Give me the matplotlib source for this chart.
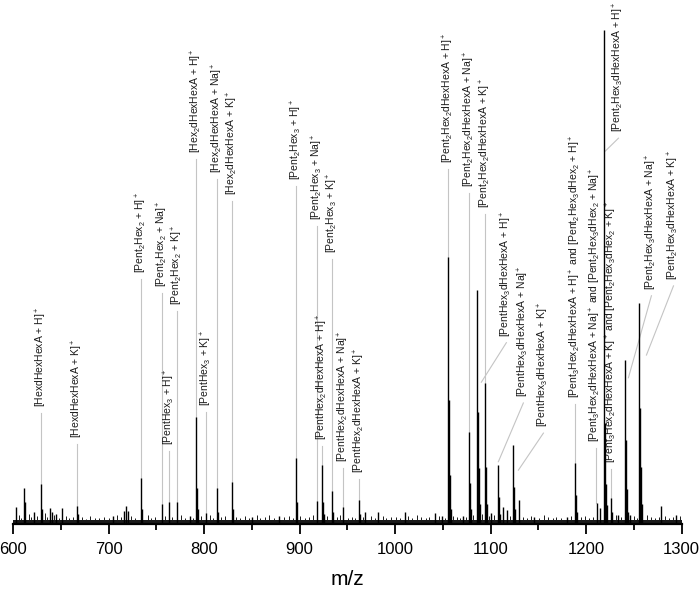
import matplotlib
matplotlib.use('Agg')
import matplotlib.pyplot as plt

plt.rcParams['font.family'] = ['Liberation Sans', 'DejaVu Sans']
plt.rcParams['mathtext.fontset'] = 'custom'
plt.rcParams['mathtext.rm'] = 'Liberation Sans'
plt.rcParams['mathtext.it'] = 'Liberation Sans'
plt.rcParams['mathtext.default'] = 'regular'

# Peaks: m/z and relative intensity (tallest = 100)
peak_mz = [603, 611.5, 613, 622, 629.3, 630.3, 638.8, 641, 645, 651, 667, 668,
           705, 716, 718, 720, 734, 735, 756, 763.5, 772, 785, 792, 793, 794,
           802, 814, 815, 829.5, 830.5, 850, 879, 896.5, 897.5, 918.5, 924,
           925, 926, 934, 935, 946, 962.5, 963.5, 969, 982.5, 1010, 1042,
           1049.5, 1055.8, 1056.8, 1057.8, 1058.8, 1071.5, 1077.8, 1078.8,
           1079.8, 1086.2, 1087.2, 1088.2, 1089.2, 1094.6, 1095.6, 1096.6,
           1100, 1108.2, 1109.2, 1110.2, 1113.5, 1117.5, 1124, 1125, 1126,
           1130, 1146, 1180, 1189, 1190, 1191, 1211, 1215, 1219.3, 1220.3,
           1221.3, 1222.3, 1226.6, 1227.6, 1234, 1240.5, 1241.5, 1242.5,
           1243.5, 1246.5, 1256, 1257, 1258, 1259, 1279, 1294.7]
peak_int = [3.4, 7.3, 4.5, 2.4, 8.1, 3.0, 3.2, 2.5, 2.0, 3.2, 3.6, 2.0,
            1.6, 2.6, 3.6, 2.6, 9.3, 3.0, 4.0, 4.5, 4.5, 1.6, 21.7, 7.3, 3.0,
            2.2, 7.3, 2.5, 8.5, 3.0, 1.5, 1.6, 13.4, 4.5, 4.7, 11.9,
            4.5, 2.0, 6.7, 2.5, 3.4, 4.9, 2.0, 2.4, 2.4, 2.4, 2.2,
            1.6, 54.0, 25.0, 10.0, 3.0, 1.6, 18.6, 8.3,
            3.0, 47.4, 22.7, 11.3, 4.0, 28.5, 11.5, 4.0,
            2.2, 11.9, 5.5, 2.0, 3.4, 2.8, 16.0, 7.5, 3.0,
            4.9, 1.5, 1.5, 12.3, 5.9, 2.5, 4.3, 3.2, 100, 20.4,
            8.0, 3.8, 5.3, 2.5, 1.8, 33.2, 17.0, 7.0,
            2.5, 1.8, 44.7, 23.5, 11.5, 4.0, 3.6, 1.8]

# small baseline spikes
minor_mz = [606, 608, 617, 619, 625, 633, 636, 643, 648, 655, 659, 663, 672,
            676, 681, 686, 690, 695, 700, 709, 713, 724, 728, 741, 745, 749,
            759, 767, 776, 780, 788, 797, 806, 809, 818, 822, 834, 838, 843,
            847, 855, 859, 864, 868, 873, 884, 889, 893, 901, 906, 910, 914,
            929, 939, 942, 951, 955, 958, 966, 975, 979, 987, 991, 996, 1001,
            1005, 1014, 1018, 1023, 1027, 1032, 1036, 1046, 1052, 1061, 1065,
            1068, 1074, 1082, 1091, 1098, 1104, 1120, 1134, 1138, 1142, 1151,
            1156, 1160, 1165, 1169, 1174, 1184, 1195, 1199, 1203, 1207, 1231,
            1237, 1250, 1253, 1264, 1268, 1272, 1276, 1283, 1287, 1291, 1298]
minor_int = [1.8, 1.2, 2.0, 1.4, 1.6, 2.2, 1.5, 1.9, 1.3, 1.7, 1.2, 1.5, 1.4,
             1.1, 1.6, 1.3, 1.2, 1.5, 1.3, 1.8, 1.4, 1.6, 1.2, 1.9, 1.3, 1.5,
             1.7, 1.4, 1.8, 1.3, 1.2, 1.6, 1.9, 1.3, 1.5, 1.7, 1.4, 1.2, 1.6,
             1.3, 1.8, 1.2, 1.5, 1.9, 1.3, 1.4, 1.6, 1.2, 1.7, 1.3, 1.5, 1.8,
             1.6, 1.4, 1.9, 1.3, 1.5, 1.2, 1.4, 1.6, 1.3, 1.7, 1.2, 1.5, 1.4,
             1.3, 1.6, 1.2, 1.8, 1.4, 1.3, 1.5, 1.7, 1.3, 1.6, 1.4,
             1.2, 1.5, 1.9, 2.0, 1.6, 1.8, 1.7, 1.5, 1.3, 1.6, 1.2,
             1.8, 1.4, 1.3, 1.5, 1.2, 1.6, 1.4, 1.7, 1.3, 1.5, 1.9,
             1.4, 1.6, 1.3, 1.8, 1.5, 1.2, 1.4, 1.6, 1.3, 1.5, 1.7]
noise_floor = 0.9

labels = [
    "[HexdHexHexA + H]$^+$",
    "[HexdHexHexA + K]$^+$",
    "[Pent$_2$Hex$_2$ + H]$^+$",
    "[Pent$_2$Hex$_2$ + Na]$^+$",
    "[Pent$_2$Hex$_2$ + K]$^+$",
    "[PentHex$_3$ + H]$^+$",
    "[PentHex$_3$ + K]$^+$",
    "[Hex$_2$dHexHexA + H]$^+$",
    "[Hex$_2$dHexHexA + Na]$^+$",
    "[Hex$_2$dHexHexA + K]$^+$",
    "[Pent$_2$Hex$_3$ + H]$^+$",
    "[Pent$_2$Hex$_3$ + Na]$^+$",
    "[Pent$_2$Hex$_3$ + K]$^+$",
    "[PentHex$_2$dHexHexA + H]$^+$",
    "[PentHex$_2$dHexHexA + Na]$^+$",
    "[PentHex$_2$dHexHexA + K]$^+$",
    "[Pent$_2$Hex$_2$dHexHexA + H]$^+$",
    "[Pent$_2$Hex$_2$dHexHexA + Na]$^+$",
    "[Pent$_2$Hex$_2$dHexHexA + K]$^+$",
    "[PentHex$_3$dHexHexA + H]$^+$",
    "[PentHex$_3$dHexHexA + Na]$^+$",
    "[PentHex$_3$dHexHexA + K]$^+$",
    "[Pent$_3$Hex$_2$dHexHexA + H]$^+$ and [Pent$_2$Hex$_3$dHex$_2$ + H]$^+$",
    "[Pent$_3$Hex$_2$dHexHexA + Na]$^+$ and [Pent$_2$Hex$_3$dHex$_2$ + Na]$^+$",
    "[Pent$_3$Hex$_2$dHexHexA + K]$^+$ and [Pent$_2$Hex$_3$dHex$_2$ + K]$^+$",
    "[Pent$_2$Hex$_3$dHexHexA + H]$^+$",
    "[Pent$_2$Hex$_3$dHexHexA + Na]$^+$",
    "[Pent$_2$Hex$_3$dHexHexA + K]$^+$",
]
# m/z where the label text stands, and height of its lower end
label_mz = [629.3, 667, 734, 756, 772, 763.5, 802, 792, 814, 829.5,
            896.5, 918.5, 934, 924, 946, 962.5, 1056, 1077.8, 1094.6,
            1116.6, 1134.4, 1155.4, 1189, 1210, 1226.6, 1234, 1268.5, 1291.6]
label_y = [23.7, 17.4, 50.8, 48.0, 44.3, 16.0, 23.9, 75.1, 71.1, 66.6,
           69.6, 61.5, 54.9, 17.0, 12.6, 10.3, 73.1, 68.2, 64.0,
           37.9, 25.7, 19.6, 25.5, 16.6, 12.3, 79.3, 47.4, 49.4]
# where each leader line ends
lead_mz = [629.3, 667, 734, 756, 772, 763.5, 802, 792, 814, 829.5,
           896.5, 918.5, 934, 924, 946, 962.5, 1056, 1077.8, 1094.6,
           1090.4, 1108.2, 1129.2, 1189, 1210, 1226.6, 1220.3, 1244.4, 1263.3]
lead_y = [8.1, 3.6, 9.3, 4.0, 4.5, 4.5, 2.2, 21.7, 7.3, 8.5,
          13.4, 4.7, 6.7, 11.9, 3.4, 4.9, 54.0, 18.6, 28.5,
          28.7, 12.6, 10.9, 12.3, 4.3, 5.3, 75.5, 29.6, 34.2]

fig = plt.figure(figsize=(7, 5.93), dpi=100)
ax = fig.add_axes([13 / 700, 69 / 593, 668.5 / 700, 524 / 593])

# leader lines first so peaks sit on top
for i in range(len(labels)):
    ax.plot([label_mz[i], lead_mz[i]], [label_y[i] - 1.2, lead_y[i]],
            color='#c4c4c4', lw=0.8, zorder=1)
    ax.text(label_mz[i], label_y[i], labels[i], rotation=90, ha='center',
            va='bottom', fontsize=7.5, color='#1a1a1a')

ax.axhspan(0, noise_floor, color='#1a1a1a', lw=0, zorder=2)
ax.vlines(minor_mz, 0, minor_int, color='#1a1a1a', lw=0.7, zorder=2)
ax.vlines(peak_mz, 0, peak_int, color='black', lw=1.0, zorder=3)

ax.set_xlim(600, 1300)
ax.set_ylim(0, 106.07)
for s in ['left', 'right', 'top']:
    ax.spines[s].set_visible(False)
ax.spines['bottom'].set_linewidth(1.6)
ax.set_yticks([])
ax.set_xticks(range(600, 1301, 100))
ax.set_xticks(range(650, 1300, 100), minor=True)
ax.tick_params(axis='x', which='major', direction='out', length=7, width=1.3,
               labelsize=12, pad=6)
ax.tick_params(axis='x', which='minor', direction='out', length=4.5, width=1.3)
ax.set_xlabel('m/z', fontsize=15, labelpad=9)

fig.savefig('out.png', dpi=100)
